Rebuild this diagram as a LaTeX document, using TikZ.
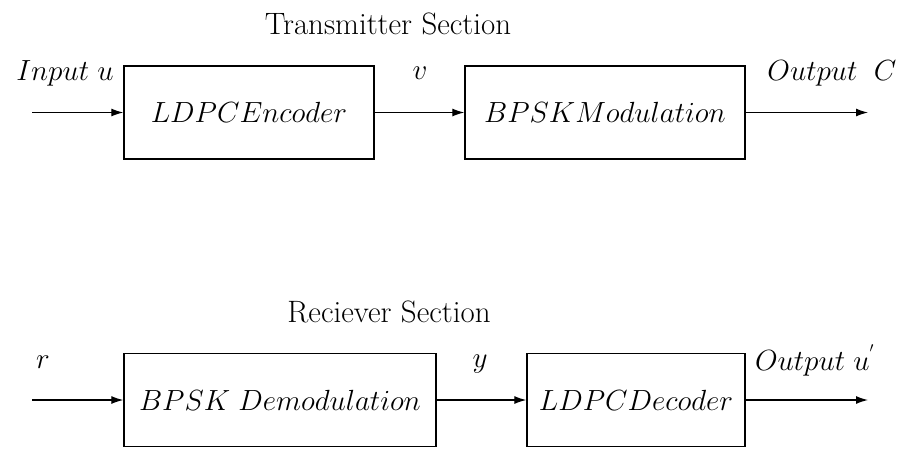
\documentclass[tikz,border=0pt]{standalone}
\usetikzlibrary{arrows.meta}
\begin{document}
\begin{tikzpicture}[x=0.025cm,y=-0.025cm,>={Latex[length=3mm,width=2mm]},line width=0.9pt,
  font=\fontsize{19.5}{23}\selectfont,
  blk/.style={draw,minimum height=2.33cm},
  ttl/.style={font=\fontsize{22}{26}\selectfont}]
  \useasboundingbox (0,0) rectangle (906,449);
  % transmitter
  \node[ttl] at (388,24) {Transmitter Section};
  \node[blk,minimum width=6.25cm] (enc) at (249,112.5) {$LDPCEncoder$};
  \node[blk,minimum width=7cm] (mod) at (605,112.5) {$BPSKModulation$};
  \coordinate (tin) at (32,112.5);
  \coordinate (tout) at (868,112.5);
  \draw[->] (tin) -- (enc);
  \draw[->] (enc) -- (mod);
  \draw[->] (mod) -- (tout);
  \node at (65,73) {$Input\ u$};
  \node at (420,73) {$v$};
  \node at (832,73) {$Output\ \ C$};
  % receiver
  \node[ttl] at (389,312) {Reciever Section};
  \node[blk,minimum width=7.8cm] (dem) at (280,400) {$BPSK\ Demodulation$};
  \node[blk,minimum width=5.45cm] (dec) at (636,400) {$LDPCDecoder$};
  \coordinate (rin) at (32,400);
  \coordinate (rout) at (868,400);
  \draw[->] (rin) -- (dem);
  \draw[->] (dem) -- (dec);
  \draw[->] (dec) -- (rout);
  \node at (43,362) {$r$};
  \node at (480,364) {$y$};
  \node at (815,360) {$Output\ u^{'}$};
\end{tikzpicture}
\end{document}
